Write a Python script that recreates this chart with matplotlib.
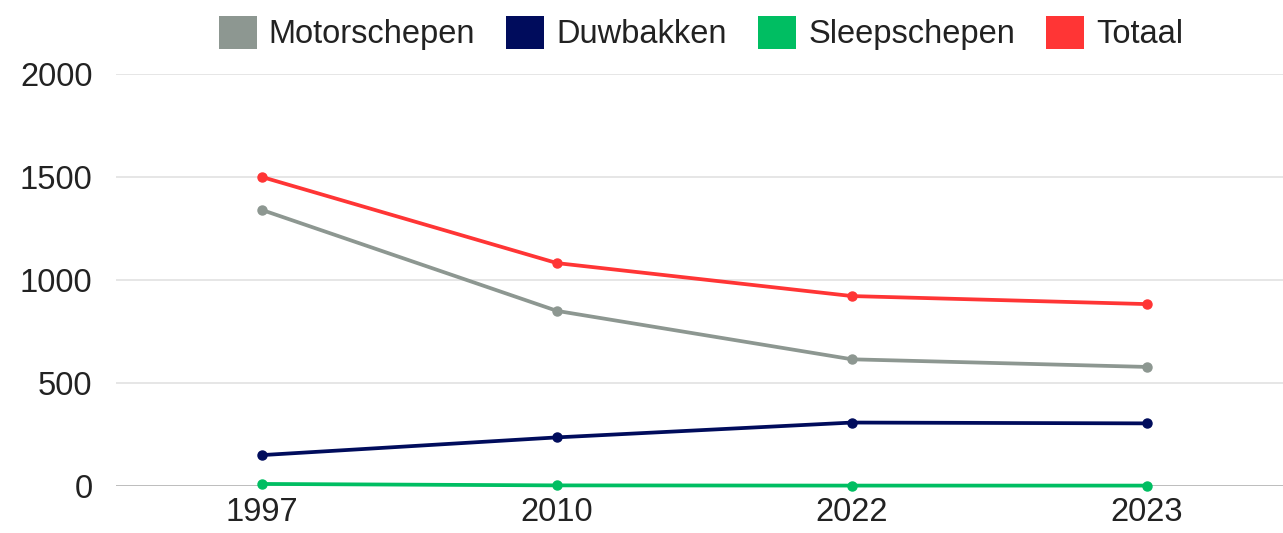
import matplotlib
matplotlib.use("Agg")
import matplotlib.pyplot as plt
from matplotlib.patches import Patch

years = ["1997", "2010", "2022", "2023"]
motorschepen = [1340, 850, 615, 578]
duwbakken = [150, 236, 308, 304]
sleepschepen = [10, 3, 2, 2]
totaal = [1500, 1082, 922, 883]
series_names = ["Motorschepen", "Duwbakken", "Sleepschepen", "Totaal"]
colors = ["#8d9791", "#000c5c", "#00be62", "#ff3535"]
yticks = [0, 500, 1000, 1500, 2000]

plt.rcParams['font.family'] = ['Liberation Sans', 'DejaVu Sans']

W, H = 1283, 533
fig = plt.figure(figsize=(W / 100, H / 100), dpi=100)
ax = fig.add_axes([116 / W, (H - 486) / H, (W - 116) / W, (486 - 74) / H])

x = list(range(len(years)))
for vals, c in zip([motorschepen, duwbakken, sleepschepen, totaal], colors):
    ax.plot(x, vals, color=c, lw=2.7, marker="o", ms=6.5, clip_on=False, zorder=3)

ax.set_xlim(-0.495, 3.461)
ax.set_ylim(0, 2000)
ax.set_yticks(yticks)
ax.set_yticklabels([str(v) for v in yticks])
ax.set_xticks(x)
ax.set_xticklabels(years)
for v in yticks:
    ax.axhline(v, color="#bdbdbd" if v == 0 else "#e6e6e6", lw=1.4, zorder=1)
for s in ax.spines.values():
    s.set_visible(False)
ax.tick_params(axis="both", length=0, labelsize=23.5, colors="#222222")
ax.tick_params(axis="y", pad=17)
ax.tick_params(axis="x", pad=8)

handles = [Patch(facecolor=c, edgecolor="none") for c in colors]
fig.legend(handles, series_names, loc="center", bbox_to_anchor=(701 / W, (H - 33) / H),
           ncol=4, frameon=False, fontsize=23.5, handlelength=1.17, handleheight=1.17,
           handletextpad=0.37, columnspacing=0.95, labelcolor="#222222")

fig.savefig("out.png", dpi=100)
